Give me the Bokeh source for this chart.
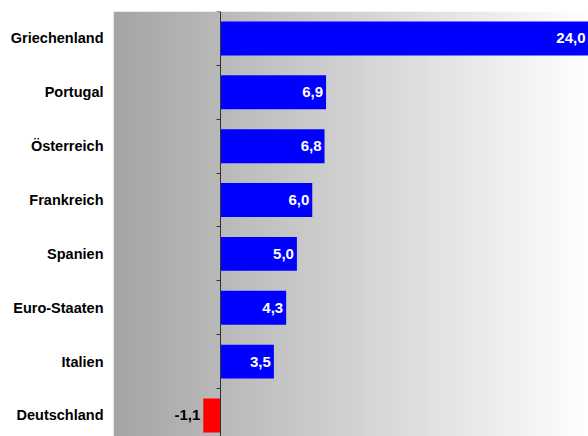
import numpy as np
from bokeh.plotting import figure
from bokeh.models import Range1d, LinearAxis, FixedTicker, ColumnDataSource
from bokeh.embed import file_html
from bokeh.resources import INLINE
from bokeh.core.properties import value

countries = ["Griechenland", "Portugal", "Österreich", "Frankreich", "Spanien",
             "Euro-Staaten", "Italien", "Deutschland"]
values = [24.0, 6.9, 6.8, 6.0, 5.0, 4.3, 3.5, -1.1]
value_labels = ["24,0", "6,9", "6,8", "6,0", "5,0", "4,3", "3,5", "-1,1"]

n = len(countries)
ypos = [n - 0.5 - i for i in range(n)]
bar_colors = ["#0000FF" if v >= 0 else "#FF0000" for v in values]
text_colors = ["white" if v >= 0 else "black" for v in values]

xmin, xmax = -6.95, 24.0
ymin, ymax = 0.11, float(n)

src = ColumnDataSource(dict(y=ypos, v=values, lab=value_labels, c=bar_colors, tc=text_colors))

p = figure(width=588, height=436, output_backend="svg", toolbar_location=None,
           x_range=Range1d(xmin, xmax), y_range=Range1d(ymin, ymax),
           x_axis_location=None, y_axis_location=None,
           min_border_left=113, min_border_top=11, min_border_right=0, min_border_bottom=0)
p.outline_line_color = None
p.grid.visible = False
p.background_fill_color = "white"
p.border_fill_color = "white"

# background gradient (grey -> white)
steps = 256
g = np.linspace(165, 255, steps).astype(np.uint8)
rgba = np.zeros((1, steps, 4), dtype=np.uint8)
rgba[0, :, 0] = g
rgba[0, :, 1] = g
rgba[0, :, 2] = g
rgba[0, :, 3] = 255
img = rgba.view(dtype=np.uint32).reshape((1, steps))
p.image_rgba(image=[img], x=xmin, y=0, dw=xmax - xmin, dh=ymax)

p.hbar(y="y", left=0, right="v", height=0.63, fill_color="c", line_color=None, source=src)

p.text(x="v", y="y", text="lab", text_align="right", text_baseline="middle", x_offset=-3,
       text_color="tc", text_font=value("Liberation Sans"), text_font_style="bold",
       text_font_size="15px", source=src)

label_axis = LinearAxis(ticker=FixedTicker(ticks=ypos),
                        major_label_overrides={y: c for y, c in zip(ypos, countries)},
                        axis_line_color=None, major_tick_line_color=None,
                        minor_tick_line_color=None, major_label_standoff=4,
                        major_label_text_font="Liberation Sans",
                        major_label_text_font_style="bold",
                        major_label_text_font_size="14.5px",
                        major_label_text_color="black")
p.add_layout(label_axis, "left")

zero_axis = LinearAxis(fixed_location=0, ticker=FixedTicker(ticks=list(range(n + 1))),
                       axis_line_color="#333333", axis_line_width=1,
                       major_tick_line_color="#333333", major_tick_out=4, major_tick_in=0,
                       minor_tick_line_color=None, major_label_text_alpha=0,
                       major_label_text_font_size="1px", major_label_standoff=0)
p.add_layout(zero_axis, "left")

open("out.html", "w").write(file_html(p, INLINE))
